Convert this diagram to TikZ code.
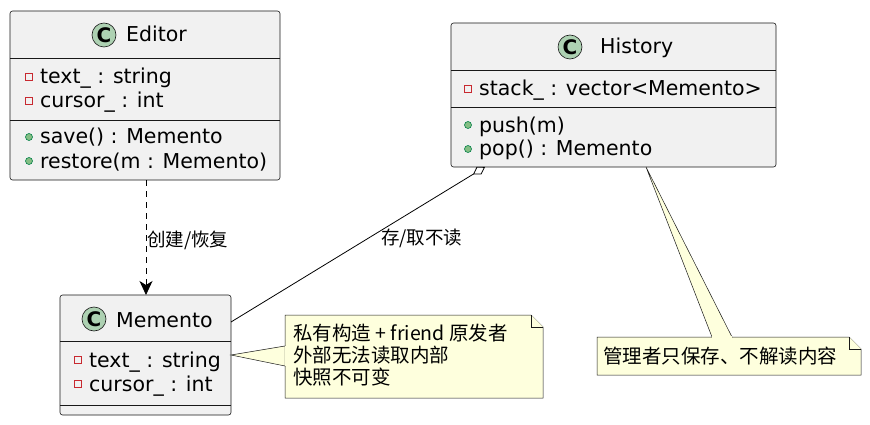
\documentclass[tikz,border=0pt]{standalone}
\usepackage{fontspec}
\setmainfont{DejaVu Sans}
\newfontfamily\cjk{Noto Sans CJK SC}
\usetikzlibrary{arrows.meta}
\definecolor{boxbg}{HTML}{F1F1F1}
\definecolor{boxln}{HTML}{181818}
\definecolor{iconbg}{HTML}{ADD1B2}
\definecolor{notebg}{HTML}{FEFFDD}
\definecolor{privc}{HTML}{C82930}
\definecolor{pubf}{HTML}{84BE84}
\definecolor{pubc}{HTML}{038048}
\begin{document}
\begin{tikzpicture}[x=1pt,y=-1pt,
  box/.style={draw=boxln,fill=boxbg,rounded corners=2.5pt,line width=0.6pt},
  sep/.style={draw=boxln,line width=0.6pt},
  txt/.style={anchor=base west,inner sep=0pt,font=\fontsize{20.5}{24}\selectfont},
  ttl/.style={anchor=base west,inner sep=0pt,font=\fontsize{20.5}{24}\selectfont},
  icon/.style={circle,draw=boxln,fill=iconbg,minimum size=24pt,inner sep=0pt,line width=0.6pt,font=\fontsize{20}{20}\selectfont\bfseries},
  priv/.style={draw=privc,line width=0.6pt,minimum size=6.5pt,inner sep=0pt,rectangle},
  pub/.style={draw=pubc,fill=pubf,line width=0.6pt,circle,minimum size=7pt,inner sep=0pt},
  note/.style={draw=boxln,fill=notebg,line width=0.5pt},
  lbl/.style={inner sep=0pt,font=\cjk\fontsize{18.5}{21}\selectfont},
  ntxt/.style={anchor=base west,inner sep=0pt,font=\cjk\fontsize{19.5}{22}\selectfont,align=left}]
\useasboundingbox (0,0) rectangle (870,425);
% Editor
\draw[box] (10,11) rectangle (280,180);
\coordinate (edTop) at (146,180);
\draw[sep] (10,58) -- (280,58); \draw[sep] (10,120) -- (280,120);
\node[icon] (edI) at (104,35) {C};
\node[ttl] (edT) at (126,42) {Editor};
\node[priv] (e1) at (29,77) {}; \node[txt] (e1t) at (40,84) {text\_ : string};
\node[priv] (e2) at (29,101) {}; \node[txt] (e2t) at (40,108) {cursor\_ : int};
\node[pub] (e3) at (29,137) {}; \node[txt] (e3t) at (40,144) {save() : Memento};
\node[pub] (e4) at (29,161) {}; \node[txt] (e4t) at (40,168) {restore(m : Memento)};
% History
\draw[box] (451,23) rectangle (776,167);
\draw[sep] (451,70) -- (776,70); \draw[sep] (451,107) -- (776,107);
\node[icon] (hiI) at (570,47) {C};
\node[ttl] (hiT) at (600,54) {History};
\node[priv] (h1) at (468,89) {}; \node[txt] (h1t) at (479,96) {stack\_ : vector<Memento>};
\node[pub] (h2) at (468,125) {}; \node[txt] (h2t) at (479,132) {push(m)};
\node[pub] (h3) at (468,149) {}; \node[txt] (h3t) at (479,156) {pop() : Memento};
% Memento
\draw[box] (60,295) rectangle (231,415);
\draw[sep] (60,341) -- (231,341); \draw[sep] (60,405) -- (231,405);
\node[icon] (meI) at (94,319) {C};
\node[ttl] (meT) at (116,327) {Memento};
\node[priv] (m1) at (78,360) {}; \node[txt] (m1t) at (89,367) {text\_ : string};
\node[priv] (m2) at (78,384) {}; \node[txt] (m2t) at (89,391) {cursor\_ : int};
% Notes
\draw[note] (285,315) -- (531,315) -- (543,327) -- (543,398) -- (285,398) -- cycle;
\draw[note] (531,315) -- (531,327) -- (543,327);
\draw[note] (231,355) -- (285,346) -- (285,366) -- cycle;
\draw[draw=notebg,fill=notebg] (285.5,346.5) -- (285.5,365.5) -- (286.5,365.5) -- (286.5,346.5) -- cycle;
\node[ntxt] (n1a) at (293,340) {私有构造 + friend 原发者};
\node[ntxt] (n1b) at (293,362) {外部无法读取内部};
\node[ntxt] (n1c) at (293,384) {快照不可变};
\draw[note] (597,337) -- (849,337) -- (861,349) -- (861,375) -- (597,375) -- cycle;
\draw[note] (849,337) -- (849,349) -- (861,349);
\draw[note] (646,167) -- (712,337) -- (732,337) -- cycle;
\draw[draw=notebg,fill=notebg] (712.5,336.4) rectangle (731.5,338);
\node[ntxt] (n2) at (603,363) {管理者只保存、不解读内容};
% Connectors
\coordinate (meTop) at (146,295);
\draw[dashed,dash pattern=on 6pt off 5pt,line width=0.8pt,-{Stealth[length=14pt,width=13pt,inset=4pt]}] (edTop) -- (meTop);
\node[lbl,anchor=west] (l1) at (147,240) {创建/恢复};
\coordinate (hiD) at (485,167);
\coordinate (meR) at (231,322);
\draw[line width=0.8pt,{Diamond[open,length=14pt,width=9pt,fill=white]}-] (hiD) -- (meR);
\node[lbl,anchor=west] (l2) at (381,238) {存/取不读};
\end{tikzpicture}
\end{document}
